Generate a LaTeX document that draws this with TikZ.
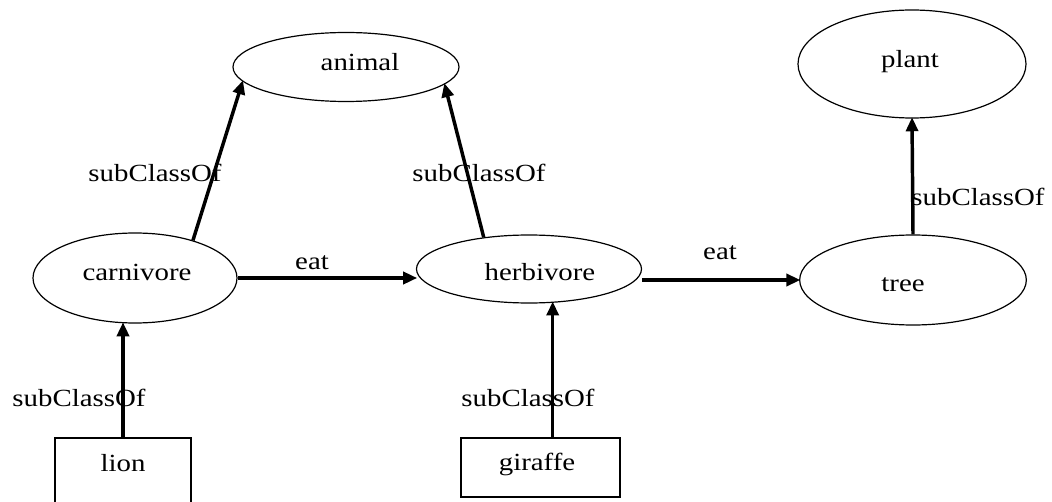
\documentclass[tikz,border=0pt]{standalone}
\usepackage{fontspec}
\usepackage{graphicx}
\setmainfont{Liberation Serif}
\usetikzlibrary{shapes.geometric,arrows.meta,calc}
\newcommand\wtxt[1]{\scalebox{1.17}[1]{#1}}
\tikzset{
  ell/.style={ellipse, draw, line width=0.9pt, inner sep=0pt},
  boxnode/.style={rectangle, draw, line width=1pt, inner sep=0pt},
  lbl/.style={inner sep=0pt, font=\fontsize{18.5}{20}\selectfont},
  arr/.style={line width=2.6pt, -{Triangle[length=10.5pt,width=9pt]}, shorten >=-1pt},
  plain/.style={line width=2.6pt}
}
\begin{document}
\begin{tikzpicture}[x=0.75pt,y=-0.75pt]
\useasboundingbox[fill=white] (0,0) rectangle (1052,502);
% class ellipses
\node[ell, minimum width=169.5pt, minimum height=51.75pt,
  label={[lbl,xshift=10.5pt,yshift=3.75pt]center:\wtxt{animal}}] (animal) at (346,67) {};
\node[ell, minimum width=171pt, minimum height=81pt,
  label={[lbl,xshift=-1.5pt,yshift=1.5pt]center:\wtxt{plant}}] (plant) at (912,64) {};
\node[ell, minimum width=153pt, minimum height=67.5pt,
  label={[lbl,xshift=1.5pt,yshift=4.5pt]center:\wtxt{carnivore}}] (carnivore) at (135,278) {};
\node[ell, minimum width=168.75pt, minimum height=51pt,
  label={[lbl,xshift=8.25pt,yshift=-2.25pt]center:\wtxt{herbivore}}] (herbivore) at (529,269) {};
\node[ell, minimum width=170pt, minimum height=67.5pt,
  label={[lbl,xshift=-7.5pt,yshift=-3.75pt]center:\wtxt{tree}}] (tree) at (913,280) {};
% instance boxes
\node[boxnode, minimum width=102pt, minimum height=61.5pt,
  label={[lbl,yshift=12pt]center:\wtxt{lion}}] (lion) at (123,479) {};
\node[boxnode, minimum width=119.25pt, minimum height=44.25pt,
  label={[lbl,xshift=-2.6pt,yshift=1.9pt]center:\wtxt{giraffe}}] (giraffe) at (540.5,467.5) {};
% connectors
\draw[arr] (carnivore.33.7) -- (animal.188.8);
\draw[arr] (herbivore.145.2) -- (animal.350.6);
\draw[arr] (lion.north) -- (lion.north |- carnivore.south);
\draw[arr] (herbivore.-55.4 |- giraffe.north) -- (herbivore.-55.4);
\draw[arr] (tree.north) -- (plant.south);
\draw[arr] (carnivore.east) -- (carnivore.east -| herbivore.west);
\draw[arr] (herbivore.east |- tree.west) -- (tree.west);
% labels
\node[lbl] (s1) at (155,173) {\wtxt{subClassOf}};
\node[lbl] (s2) at (479,173) {\wtxt{subClassOf}};
\node[lbl] (s3) at (978,197) {\wtxt{subClassOf}};
\node[lbl] (s4) at (79,398) {\wtxt{subClassOf}};
\node[lbl] (s5) at (528,398) {\wtxt{subClassOf}};
\node[lbl] (e1) at (312,263) {\wtxt{eat}};
\node[lbl] (e2) at (720,253) {\wtxt{eat}};
\end{tikzpicture}
\end{document}
